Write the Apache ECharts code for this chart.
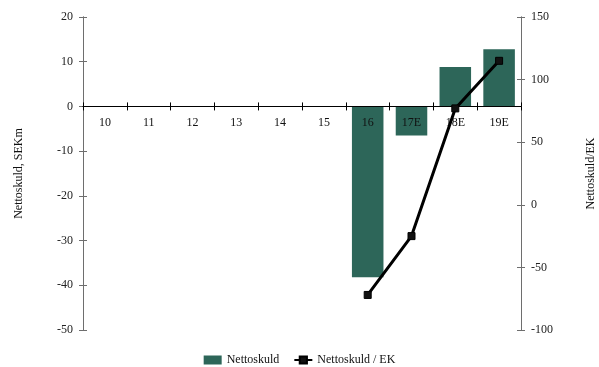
<!DOCTYPE html>
<html>
<head>
<meta charset="utf-8">
<script src="https://cdn.jsdelivr.net/npm/echarts@6/dist/echarts.min.js"></script>
<style>
html,body{margin:0;padding:0;background:#fff;}
#chart{width:599px;height:367px;}
</style>
</head>
<body>
<div id="chart"></div>
<script>
// Net debt (SEKm) and net debt / equity (%) per year
const categories = ['10', '11', '12', '13', '14', '15', '16', '17E', '18E', '19E'];
const netDebt = [null, null, null, null, null, null, -38.2, -6.5, 8.8, 12.8];
const netDebtToEquity = [null, null, null, null, null, null, -72, -25, 77, 115];
const leftTicks = { min: -50, max: 20, interval: 10 };
const rightTicks = { min: -100, max: 150, interval: 50 };

const FONT = 'Liberation Serif';
const axisGrey = '#6e6e6e';
const GRID = { left: 83, right: 78, top: 17, bottom: 37 };
const plotHeight = 367 - GRID.top - GRID.bottom;
// distance from the top of the plot down to the zero line of the left axis
const zeroOffset = plotHeight * leftTicks.max / (leftTicks.max - leftTicks.min);

const chart = echarts.init(document.getElementById('chart'), null, { renderer: 'canvas' });

function yAxisBase(pos, t, showLabel, inside) {
  return {
    type: 'value',
    position: pos,
    min: t.min, max: t.max, interval: t.interval,
    splitLine: { show: false },
    axisLine: { show: true, onZero: false, lineStyle: { color: axisGrey, width: 1 } },
    axisTick: { show: true, inside: inside, length: 4, lineStyle: { color: axisGrey } },
    axisLabel: { show: showLabel, fontFamily: FONT, fontSize: 12, color: '#222', margin: 10 }
  };
}

chart.setOption({
  animation: false,
  textStyle: { fontFamily: FONT },
  grid: Object.assign({ containLabel: false, outerBoundsMode: 'none' }, GRID),
  legend: {
    top: 349,
    left: 'center',
    itemGap: 14,
    itemWidth: 18,
    itemHeight: 9,
    textStyle: { fontFamily: FONT, fontSize: 12, color: '#111' },
    data: [
      { name: 'Nettoskuld', icon: 'rect' },
      { name: 'Nettoskuld / EK' }
    ]
  },
  xAxis: [
    {
      // category scale used by the series
      type: 'category',
      data: categories,
      show: false
    },
    {
      // zero line with category labels just beneath it and upward tick halves
      type: 'category',
      data: categories,
      position: 'top',
      offset: -zeroOffset,
      z: 5,
      axisLine: { show: true, onZero: false, lineStyle: { color: '#000', width: 1.2 } },
      axisTick: { show: true, inside: false, length: 4, lineStyle: { color: '#000' } },
      axisLabel: { inside: true, fontFamily: FONT, fontSize: 12, color: '#111', margin: 10 }
    },
    {
      // downward tick halves on the zero line
      type: 'category',
      data: categories,
      position: 'bottom',
      offset: -(plotHeight - zeroOffset),
      z: 5,
      axisLine: { show: false, onZero: false },
      axisTick: { show: true, inside: false, length: 4, lineStyle: { color: '#000' } },
      axisLabel: { show: false }
    }
  ],
  yAxis: [
    Object.assign(yAxisBase('left', leftTicks, true, false), {
      name: 'Nettoskuld, SEKm', nameLocation: 'middle', nameGap: 58, nameRotate: 90,
      nameTextStyle: { fontFamily: FONT, fontSize: 12, color: '#111' }
    }),
    Object.assign(yAxisBase('right', rightTicks, true, false), {
      name: 'Nettoskuld/EK', nameLocation: 'middle', nameGap: 64, nameRotate: 90,
      nameTextStyle: { fontFamily: FONT, fontSize: 12, color: '#111' }
    }),
    yAxisBase('left', leftTicks, false, true),
    yAxisBase('right', rightTicks, false, true)
  ],
  series: [
    {
      name: 'Nettoskuld',
      type: 'bar',
      xAxisIndex: 0,
      yAxisIndex: 0,
      barWidth: '72%',
      itemStyle: { color: '#2d6659' },
      data: netDebt
    },
    {
      name: 'Nettoskuld / EK',
      type: 'line',
      xAxisIndex: 0,
      yAxisIndex: 1,
      z: 6,
      symbol: 'rect',
      symbolSize: 7,
      lineStyle: { color: '#000', width: 3 },
      itemStyle: { color: '#111', borderColor: '#000', borderWidth: 1 },
      data: netDebtToEquity
    }
  ]
});
</script>
</body>
</html>
